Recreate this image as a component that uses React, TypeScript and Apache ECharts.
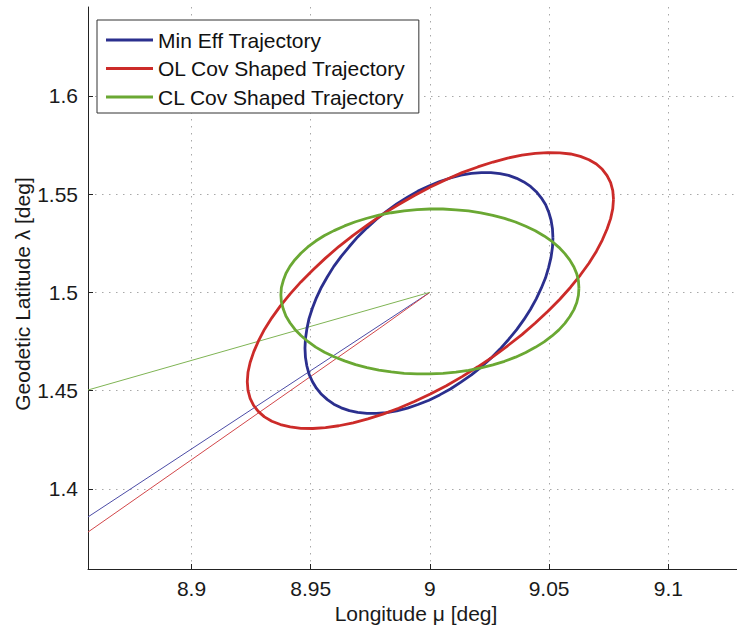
import React, { useEffect, useRef } from "react";
import * as echarts from "echarts";

const X_TICKS = [8.9, 8.95, 9, 9.05, 9.1];
const Y_TICKS = [1.4, 1.45, 1.5, 1.55, 1.6];
const X_MIN = 8.8566;
const X_MAX = 9.1288;
const Y_MIN = 1.3592;
const Y_MAX = 1.6452;

const SERIES_NAMES = ["Min Eff Trajectory", "OL Cov Shaped Trajectory", "CL Cov Shaped Trajectory"];

// Min Eff closed loop (longitude, latitude)
const minEffLoop: number[][] = [
  [9.0516, 1.5277], [9.0514, 1.5324], [9.0508, 1.5368], [9.0498, 1.5409], [9.0485, 1.5447],
  [9.0467, 1.5481], [9.0446, 1.5512], [9.0422, 1.5539], [9.0394, 1.5562], [9.0364, 1.558],
  [9.033, 1.5595], [9.0294, 1.5604], [9.0256, 1.5609], [9.0216, 1.5609], [9.0174, 1.5605],
  [9.013, 1.5596], [9.0086, 1.5582], [9.0041, 1.5564], [8.9996, 1.5541], [8.995, 1.5515],
  [8.9906, 1.5484], [8.9861, 1.545], [8.9818, 1.5412], [8.9776, 1.5372], [8.9736, 1.5328],
  [8.9697, 1.5282], [8.9662, 1.5233], [8.9628, 1.5183], [8.9597, 1.5132], [8.957, 1.5079],
  [8.9545, 1.5026], [8.9524, 1.4972], [8.9507, 1.4919], [8.9493, 1.4866], [8.9484, 1.4814],
  [8.9478, 1.4764], [8.9476, 1.4716], [8.9478, 1.4669], [8.9484, 1.4625], [8.9493, 1.4584],
  [8.9507, 1.4546], [8.9524, 1.4512], [8.9545, 1.4481], [8.957, 1.4454], [8.9597, 1.4431],
  [8.9628, 1.4412], [8.9662, 1.4398], [8.9697, 1.4389], [8.9736, 1.4384], [8.9776, 1.4384],
  [8.9818, 1.4388], [8.9861, 1.4397], [8.9906, 1.4411], [8.995, 1.4429], [8.9996, 1.4451],
  [9.0041, 1.4478], [9.0086, 1.4508], [9.013, 1.4543], [9.0174, 1.458], [9.0216, 1.4621],
  [9.0256, 1.4665], [9.0294, 1.4711], [9.033, 1.476], [9.0364, 1.481], [9.0394, 1.4861],
  [9.0422, 1.4914], [9.0446, 1.4967], [9.0467, 1.5021], [9.0485, 1.5074], [9.0498, 1.5127],
  [9.0508, 1.5178], [9.0514, 1.5229], [9.0516, 1.5277],
];

// OL covariance shaped closed loop
const olLoop: number[][] = [
  [9.077, 1.5474], [9.0767, 1.5518], [9.0758, 1.5558], [9.0743, 1.5594], [9.0723, 1.5626],
  [9.0698, 1.5653], [9.0667, 1.5675], [9.0631, 1.5692], [9.059, 1.5704], [9.0545, 1.571],
  [9.0495, 1.5711], [9.0442, 1.5707], [9.0386, 1.5698], [9.0326, 1.5683], [9.0265, 1.5663],
  [9.0201, 1.5638], [9.0135, 1.5609], [9.0069, 1.5574], [9.0002, 1.5536], [8.9935, 1.5493],
  [8.9869, 1.5447], [8.9803, 1.5398], [8.974, 1.5345], [8.9678, 1.529], [8.9618, 1.5233],
  [8.9562, 1.5174], [8.9509, 1.5114], [8.9459, 1.5053], [8.9414, 1.4992], [8.9373, 1.4931],
  [8.9337, 1.487], [8.9306, 1.4811], [8.9281, 1.4753], [8.9261, 1.4697], [8.9246, 1.4643],
  [8.9237, 1.4593], [8.9234, 1.4545], [8.9237, 1.4501], [8.9246, 1.446], [8.9261, 1.4424],
  [8.9281, 1.4393], [8.9306, 1.4366], [8.9337, 1.4344], [8.9373, 1.4327], [8.9414, 1.4315],
  [8.9459, 1.4308], [8.9509, 1.4307], [8.9562, 1.4311], [8.9618, 1.4321], [8.9678, 1.4336],
  [8.974, 1.4356], [8.9803, 1.438], [8.9869, 1.441], [8.9935, 1.4444], [9.0002, 1.4483],
  [9.0069, 1.4525], [9.0135, 1.4571], [9.0201, 1.4621], [9.0265, 1.4673], [9.0326, 1.4728],
  [9.0386, 1.4785], [9.0442, 1.4844], [9.0495, 1.4904], [9.0545, 1.4965], [9.059, 1.5026],
  [9.0631, 1.5088], [9.0667, 1.5148], [9.0698, 1.5208], [9.0723, 1.5266], [9.0743, 1.5322],
  [9.0758, 1.5375], [9.0767, 1.5426], [9.077, 1.5474],
];

// CL covariance shaped closed loop
const clLoop: number[][] = [
  [9.0625, 1.5021], [9.0623, 1.5058], [9.0616, 1.5094], [9.0604, 1.5129], [9.0587, 1.5164],
  [9.0566, 1.5197], [9.0541, 1.5229], [9.0512, 1.5259], [9.0479, 1.5287], [9.0442, 1.5313],
  [9.0402, 1.5336], [9.0359, 1.5358], [9.0313, 1.5376], [9.0264, 1.5392], [9.0214, 1.5404],
  [9.0162, 1.5414], [9.0109, 1.542], [9.0055, 1.5424], [9.0, 1.5424], [8.9946, 1.5421],
  [8.9892, 1.5414], [8.9838, 1.5405], [8.9786, 1.5393], [8.9736, 1.5377], [8.9688, 1.5359],
  [8.9642, 1.5338], [8.9598, 1.5314], [8.9558, 1.5289], [8.9521, 1.5261], [8.9488, 1.5231],
  [8.9459, 1.5199], [8.9434, 1.5166], [8.9413, 1.5132], [8.9396, 1.5096], [8.9385, 1.506],
  [8.9377, 1.5024], [8.9375, 1.4987], [8.9377, 1.4951], [8.9385, 1.4915], [8.9396, 1.4879],
  [8.9413, 1.4845], [8.9434, 1.4811], [8.9459, 1.478], [8.9488, 1.475], [8.9521, 1.4721],
  [8.9558, 1.4695], [8.9598, 1.4672], [8.9642, 1.4651], [8.9688, 1.4632], [8.9736, 1.4617],
  [8.9786, 1.4604], [8.9838, 1.4595], [8.9892, 1.4588], [8.9946, 1.4585], [9.0, 1.4585],
  [9.0055, 1.4588], [9.0109, 1.4594], [9.0162, 1.4603], [9.0214, 1.4616], [9.0264, 1.4631],
  [9.0313, 1.4649], [9.0359, 1.467], [9.0402, 1.4694], [9.0442, 1.472], [9.0479, 1.4748],
  [9.0512, 1.4778], [9.0541, 1.4809], [9.0566, 1.4842], [9.0587, 1.4877], [9.0604, 1.4912],
  [9.0616, 1.4948], [9.0623, 1.4985], [9.0625, 1.5021],
];

// approach legs
const minEffApproach: number[][] = [[8.8566, 1.3857], [9.0, 1.5]];
const olApproach: number[][] = [[8.8566, 1.378], [8.979, 1.4818], [9.0, 1.5]];
const clApproach: number[][] = [[8.8566, 1.4503], [9.0, 1.5]];

const FONT = '"Liberation Sans", Arial, Helvetica, sans-serif';
const COLORS = ["#2b2f8e", "#cc2b29", "#6aa833"];
const THIN_COLORS = ["#4c4ca6", "#d2474a", "#7fb454"];

export default function App() {
  const ref = useRef<HTMLDivElement>(null);
  useEffect(() => {
    if (!ref.current) return;
    const chart = echarts.init(ref.current, undefined, { renderer: "svg" });
    const loops = [minEffLoop, olLoop, clLoop];
    const approaches = [minEffApproach, olApproach, clApproach];
    const loopSeries = loops.map((d, i) => ({
      name: SERIES_NAMES[i],
      type: "line",
      data: d,
      symbol: "none",
      smooth: false,
      lineStyle: { color: COLORS[i], width: 2.8, join: "round" },
      itemStyle: { color: COLORS[i] },
      z: 3 + i,
    }));
    const approachSeries = approaches.map((d, i) => ({
      name: SERIES_NAMES[i],
      type: "line",
      data: d,
      symbol: "none",
      smooth: false,
      lineStyle: { color: THIN_COLORS[i], width: 1 },
      itemStyle: { color: COLORS[i] },
      z: 2,
    }));
    const axisCommon = {
      type: "value",
      axisLine: { show: true, onZero: false, lineStyle: { color: "#222", width: 1 } },
      splitLine: { show: true, lineStyle: { color: "#a8a8a8", type: [1.5, 5.5], width: 1 } },
    };
    chart.setOption({
      animation: false,
      backgroundColor: "#ffffff",
      grid: { left: 88, top: 7, right: 0, bottom: 62, containLabel: false, outerBoundsMode: "none" },
      xAxis: {
        ...axisCommon,
        min: X_MIN,
        max: X_MAX,
        axisTick: { show: true, inside: true, length: 5, customValues: X_TICKS, lineStyle: { color: "#222" } },
        axisLabel: {
          customValues: X_TICKS,
          margin: 9,
          fontSize: 21,
          fontFamily: FONT,
          color: "#1a1a1a",
          formatter: (v: number) => String(v),
        },
      },
      yAxis: {
        ...axisCommon,
        min: Y_MIN,
        max: Y_MAX,
        axisTick: { show: true, inside: true, length: 5, customValues: Y_TICKS, lineStyle: { color: "#222" } },
        axisLabel: {
          customValues: Y_TICKS,
          margin: 10,
          fontSize: 21,
          fontFamily: FONT,
          color: "#1a1a1a",
          formatter: (v: number) => String(v),
        },
      },
      legend: {
        data: SERIES_NAMES,
        orient: "vertical",
        left: 97,
        top: 20,
        padding: [9, 13, 5, 9],
        itemGap: 6.5,
        itemWidth: 47,
        itemHeight: 3,
        icon: "rect",
        backgroundColor: "#ffffff",
        borderColor: "#333",
        borderWidth: 1,
        borderRadius: 0,
        selectedMode: false,
        textStyle: { fontSize: 21, fontFamily: FONT, color: "#111", lineHeight: 22 },
      },
      graphic: [
        {
          type: "text",
          x: 416,
          y: 613,
          style: {
            text: "Longitude μ [deg]",
            fontSize: 21,
            fontFamily: FONT,
            fill: "#1a1a1a",
            align: "center",
            verticalAlign: "middle",
          },
        },
        {
          type: "text",
          x: 22,
          y: 294,
          rotation: Math.PI / 2,
          style: {
            text: "Geodetic Latitude λ [deg]",
            fontSize: 21,
            fontFamily: FONT,
            fill: "#1a1a1a",
            align: "center",
            verticalAlign: "middle",
          },
        },
      ],
      series: [...loopSeries, ...approachSeries],
    });
    return () => chart.dispose();
  }, []);
  return (
    <div
      ref={ref}
      style={{ position: "fixed", left: 0, top: 0, width: 737, height: 631, background: "#fff" }}
    />
  );
}
